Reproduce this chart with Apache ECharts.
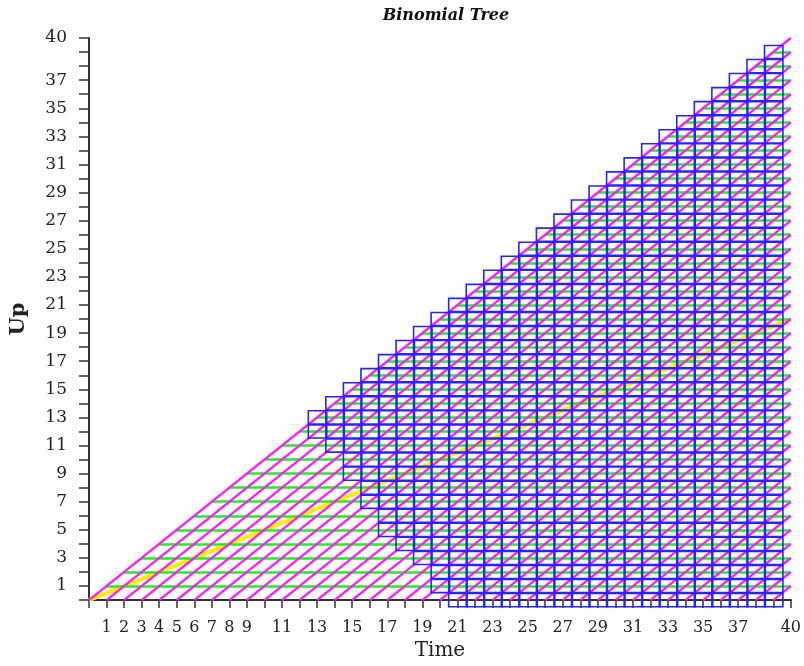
<!DOCTYPE html>
<html>
<head>
<meta charset="utf-8">
<script src="https://cdn.jsdelivr.net/npm/echarts@6/dist/echarts.min.js"></script>
<style>html,body{margin:0;padding:0;background:#fff}#c{width:804px;height:666px}</style>
</head>
<body>
<div id="c"></div>
<script>
// ---- data ----
const steps = 40;                                   // number of time steps in the tree
const xTickLabels = [1,2,3,4,5,6,7,8,9,11,13,15,17,19,21,23,25,27,29,31,33,35,37,40];
const yTickLabels = [1,3,5,7,9,11,13,15,17,19,21,23,25,27,29,31,33,35,37,40];
// blue-box region: for each time, lowest "up" node that is boxed (box goes up to the top node)
const boxTimes  = [13,14,15,16,17,18,19,20,21,22,23,24,25,26,27,28,29,30,31,32,33,34,35,36,37,38,39];
const boxMinUp  = [12,11, 9, 7, 5, 4, 3, 1, 0, 0, 0, 0, 0, 0, 0, 0, 0, 0, 0, 0, 0, 0, 0, 0, 0, 0, 0];
// yellow path (start and end)
const pathTime = [0, 40];
const pathUp   = [0, 20];

// ---- build marks from the data ----
const greenSegs = [];
for (let u = 1; u < steps; u++) greenSegs.push({coords: [[u, u], [steps, u]]});
const magentaSegs = [];
for (let d = 0; d < steps; d++) magentaSegs.push({coords: [[d, 0], [steps, steps - d]]});
const boxes = [];
boxTimes.forEach((t, i) => { for (let u = boxMinUp[i]; u <= t; u++) boxes.push([t, u]); });
const yellow = pathTime.map((t, i) => [t, pathUp[i]]);

const font = 'DejaVu Serif';
const chart = echarts.init(document.getElementById('c'), null, {renderer: 'canvas'});
chart.setOption({
  animation: false,
  backgroundColor: '#ffffff',
  title: {
    text: 'Binomial Tree', left: 441, top: 3, textAlign: 'center',
    textStyle: {fontFamily: font, fontStyle: 'italic', fontWeight: 'bold', fontSize: 16, color: '#111'}
  },
  grid: {left: 86, right: 11, top: 38, bottom: 61, containLabel: false},
  xAxis: {
    type: 'value', min: 0, max: 40, interval: 1,
    name: 'Time', nameLocation: 'middle', nameGap: 38,
    nameTextStyle: {fontFamily: font, fontSize: 20, color: '#222'},
    axisLine: {lineStyle: {color: '#333', width: 2}},
    axisTick: {show: true, length: 8, lineStyle: {color: '#333', width: 1.5}},
    splitLine: {show: false},
    axisLabel: {
      margin: 20, fontFamily: font, fontSize: 16, color: '#222',
      formatter: v => xTickLabels.indexOf(v) >= 0 ? String(v) : ''
    }
  },
  yAxis: {
    type: 'value', min: 0, max: 40, interval: 1,
    name: 'Up', nameLocation: 'middle', nameGap: 60, nameRotate: 90,
    nameTextStyle: {fontFamily: font, fontSize: 21, fontWeight: 'bold', color: '#222'},
    axisLine: {lineStyle: {color: '#333', width: 2}},
    axisTick: {show: true, length: 10, lineStyle: {color: '#333', width: 1.5}},
    splitLine: {show: false},
    axisLabel: {
      margin: 22, fontFamily: font, fontSize: 17, color: '#222',
      formatter: v => yTickLabels.indexOf(v) >= 0 ? String(v) : ''
    }
  },
  series: [
    {
      type: 'line', data: yellow, z: 1, symbol: 'none',
      lineStyle: {color: '#ffee00', width: 4}, silent: true
    },
    {
      type: 'lines', coordinateSystem: 'cartesian2d', z: 2,
      lineStyle: {color: '#1fef1f', width: 2.6, opacity: 1},
      data: greenSegs, silent: true
    },
    {
      type: 'lines', coordinateSystem: 'cartesian2d', z: 3,
      lineStyle: {color: '#ff1aff', width: 2.4, opacity: 1},
      data: magentaSegs, silent: true
    },
    {
      type: 'custom', z: 5, silent: true,
      data: boxes,
      renderItem: (params, api) => {
        const t = api.value(0), u = api.value(1);
        const p0 = api.coord([t - 0.5, u + 0.47]);
        const p1 = api.coord([t + 0.55, u - 0.47]);
        return {
          type: 'rect',
          shape: {x: p0[0], y: p0[1], width: p1[0] - p0[0], height: p1[1] - p0[1]},
          style: {fill: null, stroke: '#2525ff', lineWidth: 1.6}
        };
      }
    }
  ]
});
</script>
</body>
</html>
